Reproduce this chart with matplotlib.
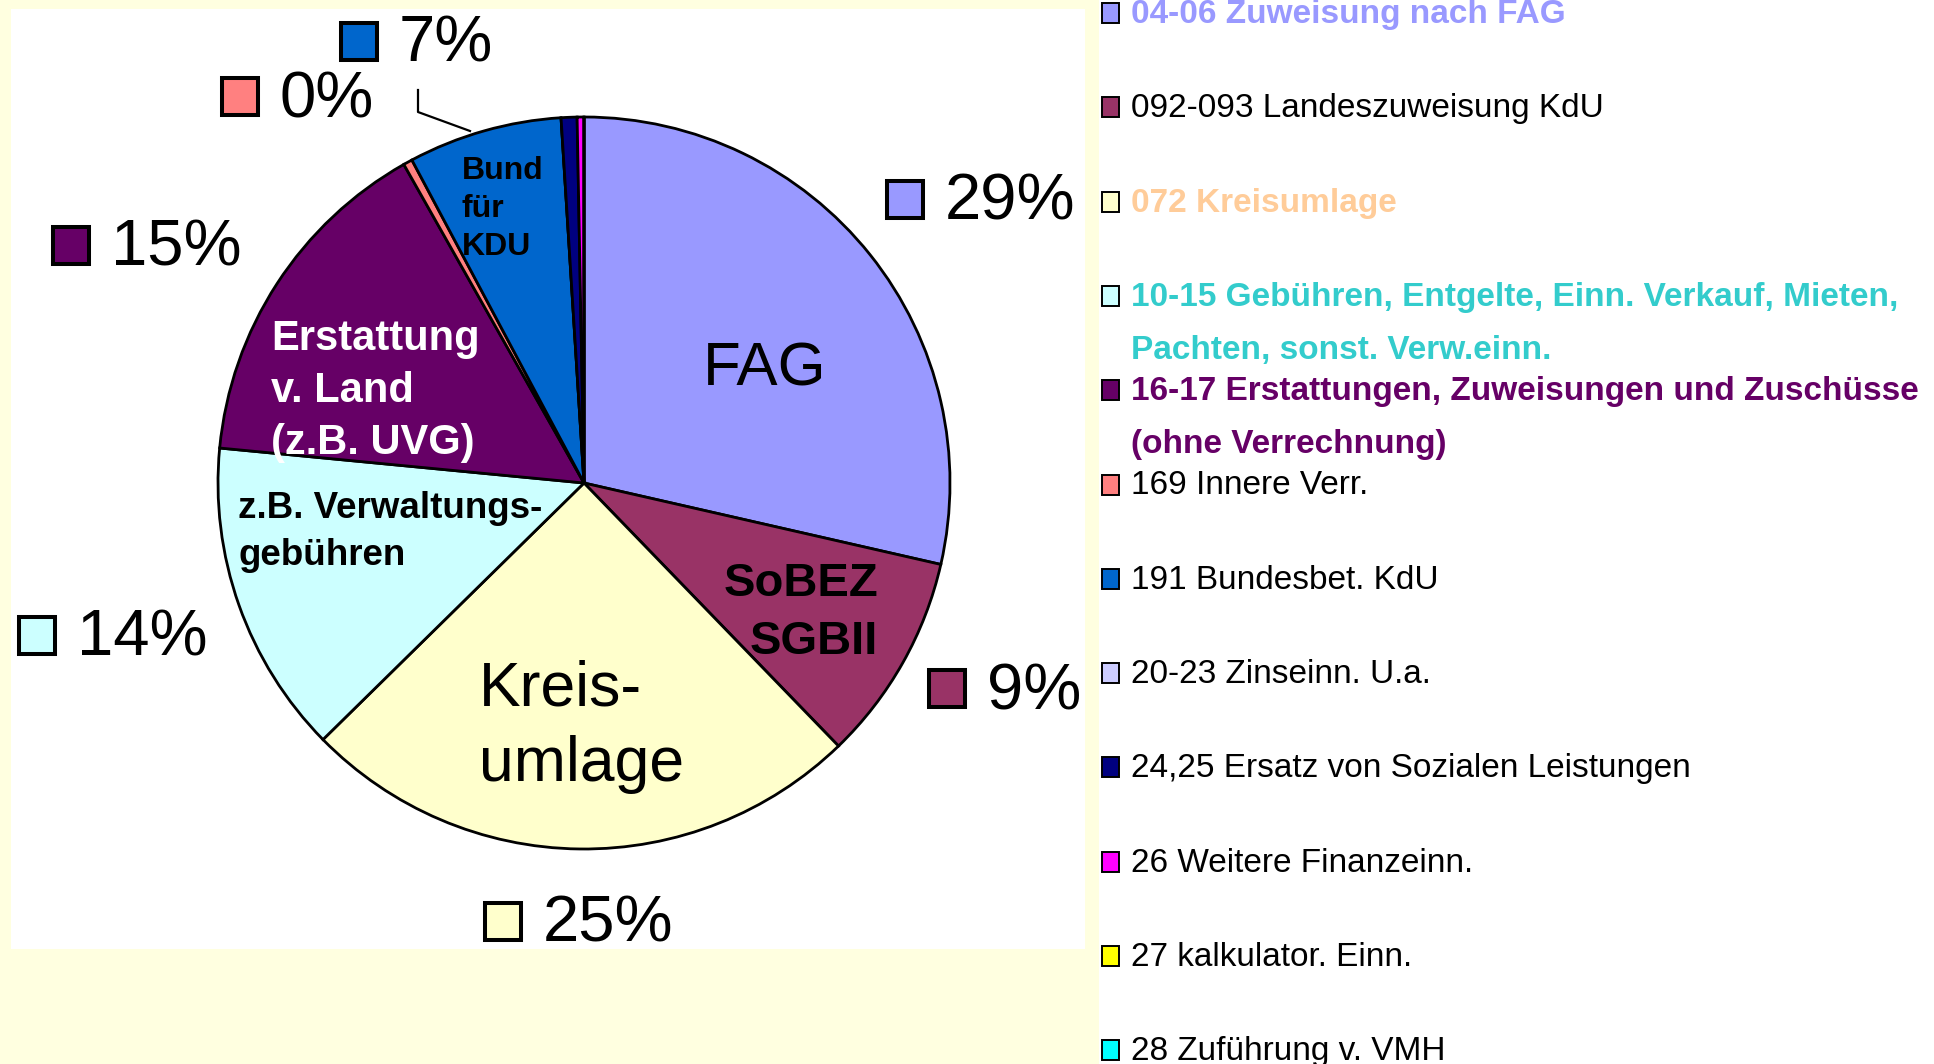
# Einnahmen-Struktur (Kreishaushalt) als Kreisdiagramm

import matplotlib.pyplot as plt
from matplotlib.patches import Rectangle
from matplotlib import font_manager

# Anteile in Prozent
werte = [28.6, 9.2, 24.9, 13.9, 15.3, 0.4, 6.8, 0.0, 0.7, 0.3, 0.0, 0.0]
farben = ['#9999FF', '#993366', '#FFFFCC', '#CCFFFF', '#660066', '#FF8080',
          '#0066CC', '#CCCCFF', '#000080', '#FF00FF', '#FFFF00', '#00FFFF']
legende = ['04-06 Zuweisung nach FAG',
           '092-093 Landeszuweisung KdU',
           '072 Kreisumlage',
           '10-15 Gebühren, Entgelte, Einn. Verkauf, Mieten,\nPachten, sonst. Verw.einn.',
           '16-17 Erstattungen, Zuweisungen und Zuschüsse\n(ohne Verrechnung)',
           '169 Innere Verr.',
           '191 Bundesbet. KdU',
           '20-23 Zinseinn. U.a.',
           '24,25 Ersatz von Sozialen Leistungen',
           '26 Weitere Finanzeinn.',
           '27 kalkulator. Einn.',
           '28 Zuführung v. VMH']
textfarben = ['#9999FF', 'black', '#FFCC99', '#33CCCC', '#660066', 'black',
              'black', 'black', 'black', 'black', 'black', 'black']

# Beschriftungen in den Segmenten
innen_texte = ['FAG', 'SoBEZ\nSGBII', 'Kreis-\numlage', 'z.B. Verwaltungs-\ngebühren',
               'Erstattung\nv. Land\n(z.B. UVG)', 'Bund\nfür\nKDU']

# Layout (Pixel, y nach unten)
W, H = 1934, 1064
mitte = (584, 483)
radius = 366
# Position der Prozent-Labels: linke Kante des Kästchens, Grundlinie
label_pos = [(885, 220), (927, 709), (483, 942), (17, 656), (51, 266), (220, 117), (339, 62)]
# x, Grundlinie erste Zeile, Zeilenabstand, Schriftgroesse, Gewicht, Farbe, Ausrichtung
innen_pos = [(703, 385, 0, 44.5, 'normal', 'black', 'left'),
             (878, 596, 58, 34, 'bold', 'black', 'right'),
             (479, 705, 76, 45, 'normal', 'black', 'left'),
             (238, 518, 47, 26.5, 'bold', 'black', 'left'),
             (271, 350, 52, 30, 'bold', 'white', 'left'),
             (462, 179, 38, 23, 'bold', 'black', 'left')]

namen = {f.name for f in font_manager.fontManager.ttflist}
if 'Liberation Sans Narrow' in namen:
    leg_font, leg_size = 'Liberation Sans Narrow', 29
else:
    leg_font, leg_size = 'Liberation Sans', 24

fig = plt.figure(figsize=(W / 100, H / 100), dpi=100, facecolor='#FFFFE0')
ax = fig.add_axes([0, 0, 1, 1])

# weisse Flaechen (Diagramm und Legende)
ax.add_patch(Rectangle((11, 9), 1074, 940, facecolor='white', edgecolor='none', zorder=0))
ax.add_patch(Rectangle((1099, 0), W - 1099, H, facecolor='white', edgecolor='none', zorder=0))

ax.pie(werte, colors=farben, center=mitte, radius=radius, startangle=-90,
       counterclock=True, normalize=True,
       wedgeprops=dict(edgecolor='black', linewidth=2.0))

ax.set_xlim(0, W)
ax.set_ylim(H, 0)
ax.set_aspect('equal')
ax.axis('off')

# Prozent-Labels mit farbigem Kaestchen
for (x, y), v, c in zip(label_pos, werte, farben):
    ax.add_patch(Rectangle((x + 2, y - 39), 36, 37, facecolor=c, edgecolor='black',
                           linewidth=2.9, zorder=3))
    ax.text(x + 60, y, f'{round(v)}%', fontsize=47, family='Liberation Sans',
            va='baseline', ha='left', zorder=3)

# Fuehrungslinie fuer 7 %
ax.plot([418, 418, 470], [90, 112, 131], color='black', linewidth=1.6, zorder=3)

for t, (x, y, dy, fs, fw, c, ha) in zip(innen_texte, innen_pos):
    for k, zeile in enumerate(t.split('\n')):
        ax.text(x, y + k * dy, zeile, fontsize=fs, fontweight=fw, color=c, ha=ha,
                va='baseline', family='Liberation Sans', zorder=4)

# Legende
for i, (lab, c, tc) in enumerate(zip(legende, farben, textfarben)):
    y = 23 + 94.3 * i
    ax.add_patch(Rectangle((1102, y - 20), 17, 20, facecolor=c, edgecolor='black',
                           linewidth=1.4, zorder=3))
    for k, zeile in enumerate(lab.split('\n')):
        ax.text(1131, y + 53 * k, zeile, fontsize=leg_size, family=leg_font, color=tc,
                fontweight='normal' if tc == 'black' else 'bold',
                va='baseline', ha='left', zorder=3)

plt.savefig('out.png', dpi=100, facecolor=fig.get_facecolor())
